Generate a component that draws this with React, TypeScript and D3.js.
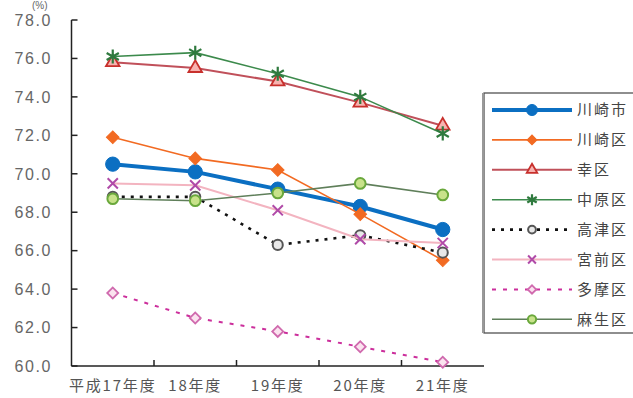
import React from "react";
import * as d3 from "d3";

const years = ["平成17年度", "18年度", "19年度", "20年度", "21年度"];
const yTicks = [60, 62, 64, 66, 68, 70, 72, 74, 76, 78];

const kawasakiCity = [70.5, 70.1, 69.2, 68.3, 67.1];
const kawasakiKu = [71.9, 70.8, 70.2, 67.9, 65.5];
const saiwaiKu = [75.8, 75.5, 74.8, 73.7, 72.5];
const nakaharaKu = [76.1, 76.3, 75.2, 74.0, 72.1];
const takatsuKu = [68.8, 68.8, 66.3, 66.8, 65.9];
const miyamaeKu = [69.5, 69.4, 68.1, 66.6, 66.4];
const tamaKu = [63.8, 62.5, 61.8, 61.0, 60.2];
const asaoKu = [68.7, 68.6, 69.0, 69.5, 68.9];

type Series = {
  name: string;
  values: number[];
  stroke: string;
  width: number;
  dash?: string;
  symbol: d3.SymbolType;
  size: number;
  fill: string;
  mstroke: string;
  mwidth: number;
  rotate?: number;
};

const series: Series[] = [
  { name: "川崎市", values: kawasakiCity, stroke: "#0b6fc2", width: 4, symbol: d3.symbolCircle, size: 160, fill: "#0b6fc2", mstroke: "#0b6fc2", mwidth: 1 },
  { name: "川崎区", values: kawasakiKu, stroke: "#f26a22", width: 1.6, symbol: d3.symbolSquare, size: 80, fill: "#f26a22", mstroke: "#f26a22", mwidth: 1, rotate: 45 },
  { name: "幸区", values: saiwaiKu, stroke: "#c0505a", width: 2, symbol: d3.symbolTriangle, size: 80, fill: "#f7b3b0", mstroke: "#c8302c", mwidth: 1.8 },
  { name: "中原区", values: nakaharaKu, stroke: "#3c8a4c", width: 1.6, symbol: d3.symbolAsterisk, size: 140, fill: "none", mstroke: "#2f7a3e", mwidth: 2.2 },
  { name: "高津区", values: takatsuKu, stroke: "#111111", width: 2.6, dash: "3,6", symbol: d3.symbolCircle, size: 80, fill: "#e8e8e8", mstroke: "#555555", mwidth: 2 },
  { name: "宮前区", values: miyamaeKu, stroke: "#f3b4c0", width: 2, symbol: d3.symbolTimes, size: 70, fill: "none", mstroke: "#b04aa8", mwidth: 2 },
  { name: "多摩区", values: tamaKu, stroke: "#cc2f9c", width: 2, dash: "4,7", symbol: d3.symbolSquare, size: 60, fill: "#fbe3ef", mstroke: "#d06aae", mwidth: 1.8, rotate: 45 },
  { name: "麻生区", values: asaoKu, stroke: "#5f7f5a", width: 1.6, symbol: d3.symbolCircle, size: 90, fill: "#c8e28a", mstroke: "#6aa83c", mwidth: 2 },
];

const W = 633;
const H = 398;
const left = 71.5;
const right = 484;
const top = 20;
const bottom = 366;

export default function App() {
  const x = d3.scaleBand<string>().domain(years).range([left, right]);
  const y = d3.scaleLinear().domain([60, 78]).range([bottom, top]);
  const cx = (i: number) => (x(years[i]) as number) + x.bandwidth() / 2;
  const line = d3
    .line<number>()
    .x((_, i) => cx(i))
    .y((v) => y(v));

  const legendX = 484;
  const legendTop = 93;
  const rowY = (i: number) => 110 + i * 29.9;

  const tickFont = "'Liberation Sans', Arial, sans-serif";
  const cjkFont = "'Noto Sans CJK JP', sans-serif";

  return (
    <svg width={W} height={H} style={{ position: "absolute", left: 0, top: 0, background: "#fff" }}>
      <rect width={W} height={H} fill="#fff" />
      {/* unit label */}
      <text x={32} y={9} fontSize={10} fill="#666" fontFamily={tickFont}>
        (%)
      </text>

      {/* y axis */}
      <line x1={left} x2={left} y1={top} y2={bottom} stroke="#222" strokeWidth={1.5} />
      {yTicks.map((t) => (
        <g key={t}>
          <line x1={left} x2={left + 6} y1={y(t)} y2={y(t)} stroke="#222" strokeWidth={1.5} />
          <text
            x={52}
            y={y(t)}
            dy="0.36em"
            textAnchor="end"
            fontSize={16}
            letterSpacing={1.6}
            fill="#666"
            fontFamily={tickFont}
          >
            {t.toFixed(1)}
          </text>
        </g>
      ))}

      {/* x axis */}
      <line x1={left} x2={right} y1={bottom} y2={bottom} stroke="#222" strokeWidth={1.5} />
      {years.slice(1).map((yr) => (
        <line
          key={yr}
          x1={x(yr) as number}
          x2={x(yr) as number}
          y1={bottom}
          y2={bottom - 6}
          stroke="#222"
          strokeWidth={1.5}
        />
      ))}
      {years.map((yr, i) => (
        <text
          key={yr}
          x={cx(i)}
          y={386}
          dy="0.35em"
          textAnchor="middle"
          fontSize={15}
          letterSpacing={1.8}
          fill="#555"
          fontFamily={cjkFont}
        >
          {yr}
        </text>
      ))}

      {/* series */}
      {series.map((s) => (
        <g key={s.name}>
          <path
            d={line(s.values) || ""}
            fill="none"
            stroke={s.stroke}
            strokeWidth={s.width}
            strokeDasharray={s.dash}
          />
          {s.values.map((v, i) => (
            <path
              key={i}
              d={d3.symbol().type(s.symbol).size(s.size)() || ""}
              transform={`translate(${cx(i)},${y(v)}) rotate(${s.rotate || 0})`}
              fill={s.fill}
              stroke={s.mstroke}
              strokeWidth={s.mwidth}
            />
          ))}
        </g>
      ))}

      {/* legend */}
      <rect
        x={legendX}
        y={legendTop}
        width={170}
        height={240}
        fill="#fff"
        stroke="#444"
        strokeWidth={1.2}
      />
      <line x1={legendX - 1} x2={legendX - 1} y1={legendTop} y2={legendTop + 240} stroke="#999" strokeWidth={2} />
      {series.map((s, i) => (
        <g key={s.name}>
          <line
            x1={492}
            x2={572}
            y1={rowY(i)}
            y2={rowY(i)}
            stroke={s.stroke}
            strokeWidth={s.width}
            strokeDasharray={s.dash}
          />
          <path
            d={d3.symbol().type(s.symbol).size(s.size * 0.6)() || ""}
            transform={`translate(532,${rowY(i)}) rotate(${s.rotate || 0})`}
            fill={s.fill}
            stroke={s.mstroke}
            strokeWidth={s.mwidth}
          />
          <text
            x={577}
            y={rowY(i)}
            dy="0.36em"
            fontSize={15}
            letterSpacing={2}
            fill="#444"
            fontFamily={cjkFont}
          >
            {s.name}
          </text>
        </g>
      ))}
    </svg>
  );
}
